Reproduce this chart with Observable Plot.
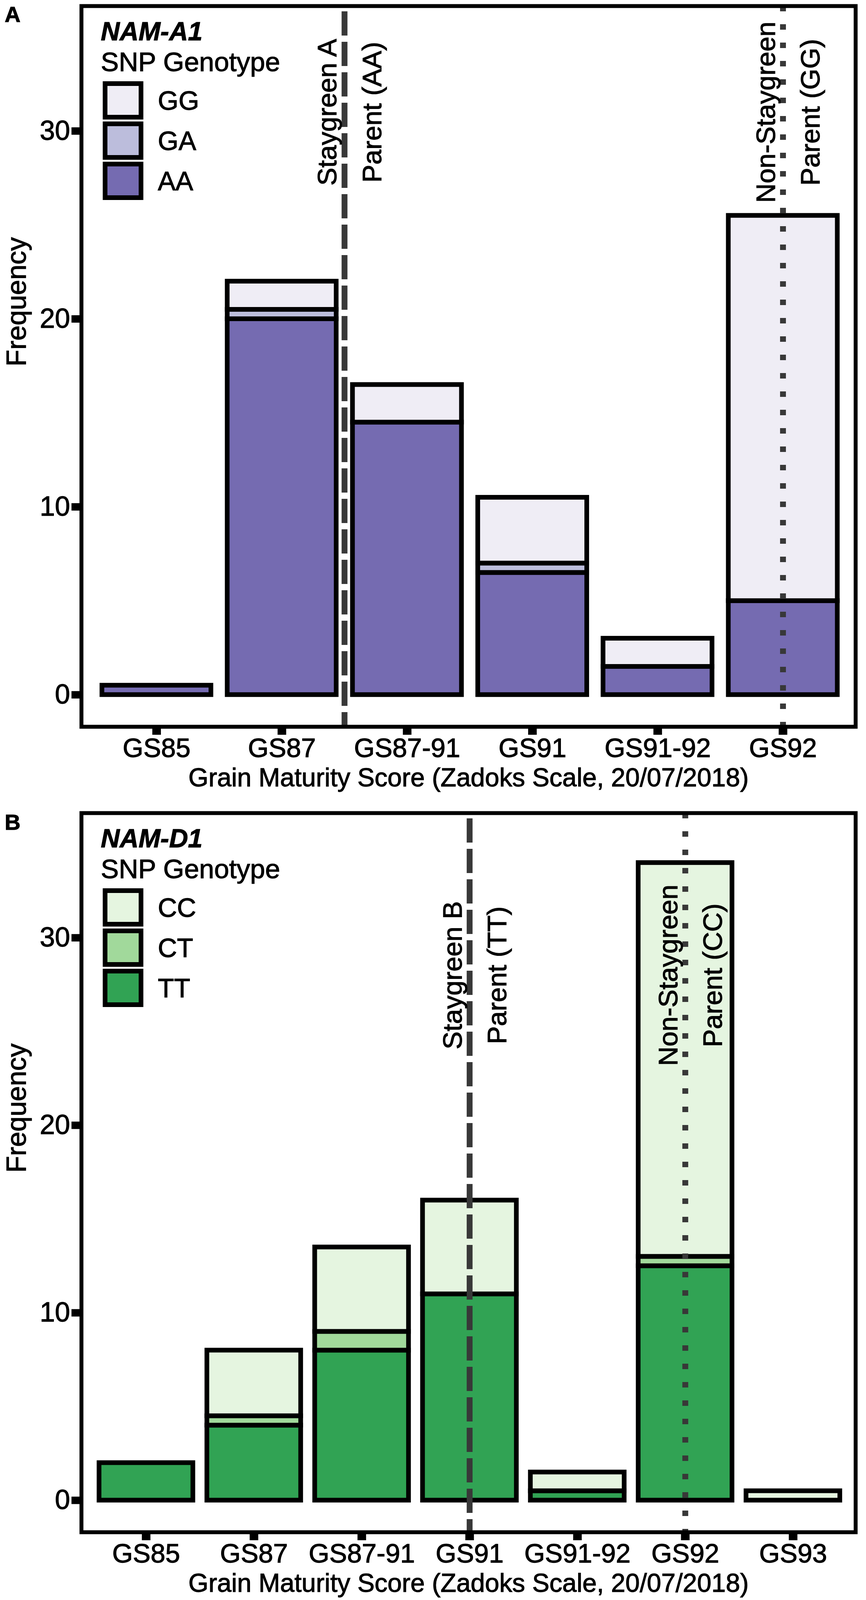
<!DOCTYPE html>
<html>
<head>
<meta charset="utf-8">
<script src="https://cdn.jsdelivr.net/npm/d3@7"></script>
<script src="https://cdn.jsdelivr.net/npm/@observablehq/plot@0.6"></script>
<style>
  html, body { margin: 0; background: #fff; overflow: hidden; font-family: "Liberation Sans", Arial, sans-serif; }
  .panel { position: relative; width: 2217px; }
  .panel > svg { display: block; }
  .overlay { position: absolute; left: 0; top: 0; pointer-events: none; overflow: visible; }
  svg text { stroke: black; stroke-width: 1.3px; }
</style>
</head>
<body>
<div id="panelA" class="panel"></div>
<div id="panelB" class="panel"></div>
<script>
// ---- panel A : NAM-A1 ----
const stagesA = ['GS85', 'GS87', 'GS87-91', 'GS91', 'GS91-92', 'GS92']
const genotypesA = ['GG', 'GA', 'AA']          // top -> bottom of each stack
const coloursA = ['#efedf5', '#bcbddc', '#756bb1']
const GG = [0, 1.5, 2, 3.5, 1.5, 20.5]
const GA = [0, 0.5, 0, 0.5, 0, 0]
const AA = [0.5, 20, 14.5, 6.5, 1.5, 5]
const parentsA = [1.5, 5]                       // x position (category index)
const parentLabelsA = ['Staygreen A\nParent (AA)', 'Non-Staygreen\nParent (GG)']
const labelLevelA = 31

// ---- panel B : NAM-D1 ----
const stagesB = ['GS85', 'GS87', 'GS87-91', 'GS91', 'GS91-92', 'GS92', 'GS93']
const genotypesB = ['CC', 'CT', 'TT']
const coloursB = ['#e5f5e0', '#a1d99b', '#31a354']
const CC = [0, 3.5, 4.5, 5, 1, 21, 0.5]
const CT = [0, 0.5, 1, 0, 0, 0.5, 0]
const TT = [2, 4, 8, 11, 0.5, 12.5, 0]
const parentsB = [3, 5]
const parentLabelsB = ['Staygreen B\nParent (TT)', 'Non-Staygreen\nParent (CC)']
const labelLevelB = 28

const yTicks = [0, 10, 20, 30]
const xTitle = 'Grain Maturity Score (Zadoks Scale, 20/07/2018)'
const yTitle = 'Frequency'

const FONT = "'Liberation Sans', Arial, Helvetica, sans-serif"

// stacked segments, bottom genotype first
function stackRows(stages, genos, series) {
  const rows = []
  stages.forEach((s, i) => {
    let base = 0
    for (let g = genos.length - 1; g >= 0; g--) {
      const n = series[g][i]
      if (n > 0) {
        rows.push({i, stage: s, geno: genos[g], y1: base, y2: base + n})
        base += n
      }
    }
  })
  return rows
}

function drawPanel(cfg) {
  const rows = stackRows(cfg.stages, cfg.genos, cfg.series)
  const n = cfg.stages.length
  const lines = cfg.parents.map((p, k) => ({x: p, label: cfg.labels[k], k}))

  const chart = Plot.plot({
    width: 2217,
    height: cfg.height,
    marginTop: cfg.marginTop,
    marginBottom: cfg.marginBottom,
    marginLeft: 208,
    marginRight: 27,
    style: {fontFamily: FONT, fontSize: '68px', background: 'white', color: 'black'},
    x: {type: 'linear', domain: [-0.6, n - 0.42], axis: null},
    y: {domain: [-1.7, 36.65], axis: null},
    color: {domain: cfg.genos, range: cfg.colours},
    marks: [
      Plot.rect(rows, {
        x1: d => d.i - 0.435, x2: d => d.i + 0.435,
        y1: 'y1', y2: 'y2',
        fill: 'geno', stroke: 'black', strokeWidth: 12
      }),
      // staygreen parent : dashed / non-staygreen parent : dotted
      Plot.ruleX(lines.filter(d => d.k === 0), {
        x: 'x', stroke: '#383838', strokeWidth: 15,
        strokeDasharray: '62,16', strokeDashoffset: 64
      }),
      Plot.ruleX(lines.filter(d => d.k === 1), {
        x: 'x', stroke: '#383838', strokeWidth: 15, strokeDasharray: '14,33'
      }),
      Plot.text(lines, {
        x: 'x', y: () => cfg.labelLevel, text: 'label',
        rotate: -90, textAnchor: 'middle', lineAnchor: 'middle',
        lineHeight: 1.66, fontSize: 69, fill: 'black'
      }),
      Plot.frame({stroke: 'black', strokeWidth: 10}),
      Plot.axisY(yTicks, {
        tickSize: 25, tickPadding: 4, strokeWidth: 19,
        tickFormat: d => String(d),
        fontSize: 70, label: null
      }),
      Plot.axisX(d3.range(n), {
        tickFormat: i => cfg.stages[i],
        tickSize: 21, tickPadding: 8, strokeWidth: 22,
        fontSize: 68, label: null
      }),
      Plot.text([xTitle], {
        frameAnchor: 'bottom', dy: 152, lineAnchor: 'bottom', fontSize: 66, fill: 'black'
      }),
      Plot.text([yTitle], {
        frameAnchor: 'left', dx: -165, rotate: -90, fontSize: 70, fill: 'black'
      })
    ]
  })

  const wrap = document.getElementById(cfg.id)
  wrap.append(chart)

  // legend + panel letter, inside the frame (top-left)
  const top = cfg.marginTop
  const svg = d3.select(wrap).append('svg')
    .attr('class', 'overlay')
    .attr('width', 900).attr('height', top + 600)
    .style('font-family', FONT)

  svg.append('text')
    .attr('x', 12).attr('y', cfg.letterBaseline)
    .attr('font-size', 56).attr('font-weight', 'bold')
    .text(cfg.letter)

  svg.append('text')
    .attr('x', 258).attr('y', top + 88)
    .attr('font-size', 67).attr('font-weight', 'bold').attr('font-style', 'italic')
    .text(cfg.gene)

  svg.append('text')
    .attr('x', 258).attr('y', top + 167)
    .attr('font-size', 69)
    .text('SNP Genotype')

  cfg.genos.forEach((g, k) => {
    const y0 = top + 193 + k * 103
    svg.append('rect')
      .attr('x', 269).attr('y', y0 + 6)
      .attr('width', 92).attr('height', 86)
      .attr('fill', cfg.colours[k]).attr('stroke', 'black').attr('stroke-width', 12)
    svg.append('text')
      .attr('x', 404).attr('y', y0 + 49).attr('dy', '0.35em')
      .attr('font-size', 68)
      .text(g)
  })
}

drawPanel({
  id: 'panelA', letter: 'A', gene: 'NAM-A1',
  stages: stagesA, genos: genotypesA, colours: coloursA, series: [GG, GA, AA],
  parents: parentsA, labels: parentLabelsA, labelLevel: labelLevelA,
  height: 2045, marginTop: 15, marginBottom: 185, letterBaseline: 56
})

drawPanel({
  id: 'panelB', letter: 'B', gene: 'NAM-D1',
  stages: stagesB, genos: genotypesB, colours: coloursB, series: [CC, CT, TT],
  parents: parentsB, labels: parentLabelsB, labelLevel: labelLevelB,
  height: 2051, marginTop: 36, marginBottom: 174, letterBaseline: 79
})
</script>
</body>
</html>
